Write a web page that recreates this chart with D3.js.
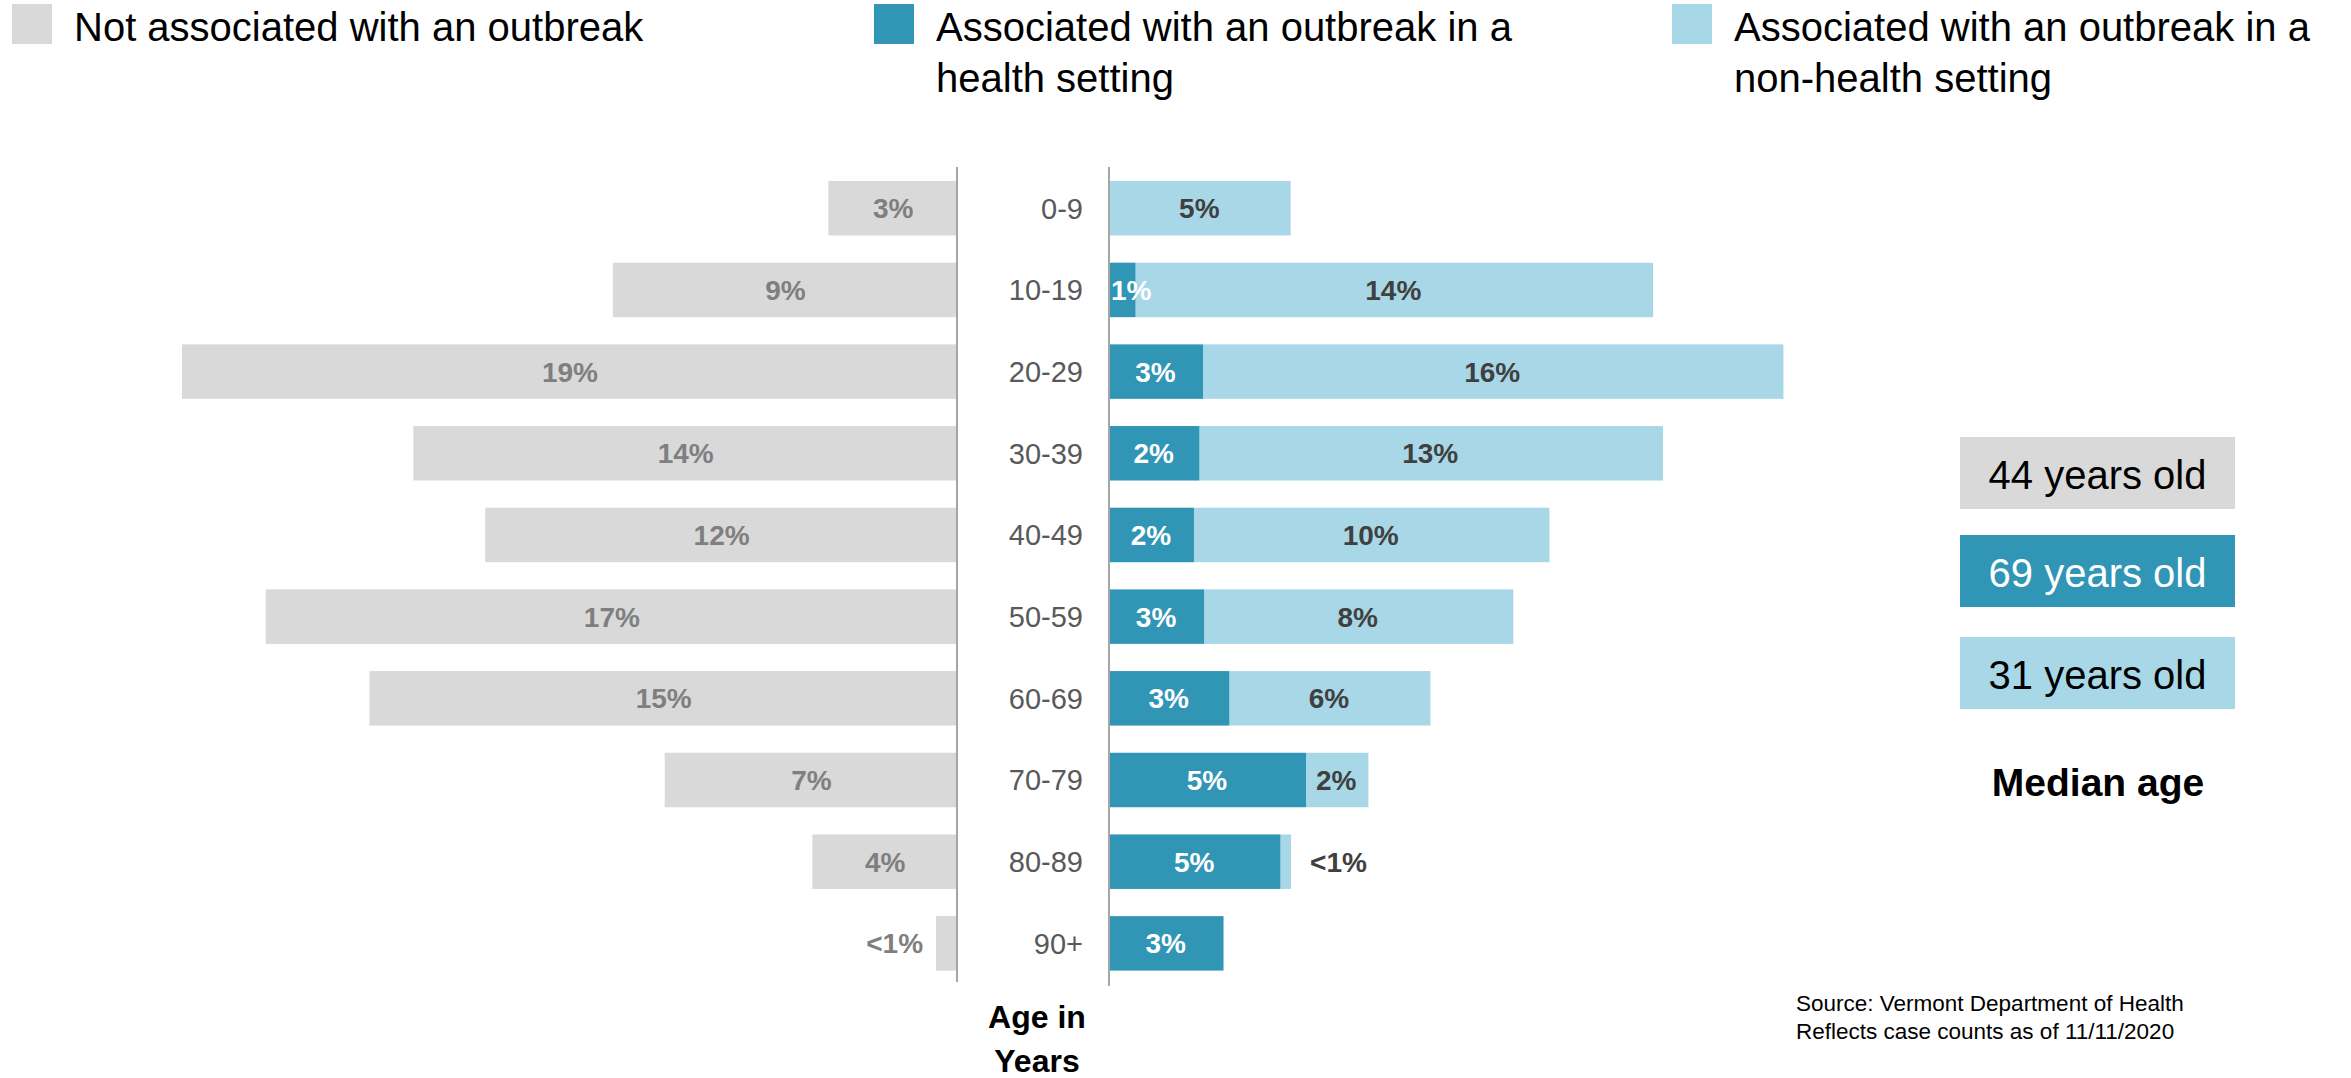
<!DOCTYPE html>
<html>
<head>
<meta charset="utf-8">
<script src="https://cdn.jsdelivr.net/npm/d3@7"></script>
<style>
  body { margin: 0; background: #fff; }
  svg { display: block; font-family: "Liberation Sans", Arial, sans-serif; }
</style>
</head>
<body>
<div id="chart"><svg></svg></div>
<script>
var width = 2351,
    height = 1078;

var colorGray = "#d9d9d9",
    colorTeal = "#3195b5",
    colorLight = "#a8d8e8";

// age groups
var ages = ["0-9", "10-19", "20-29", "30-39", "40-49", "50-59", "60-69", "70-79", "80-89", "90+"];

// share of cases (%)
var notAssoc  = [3.2, 8.6, 19.4, 13.6, 11.8, 17.3, 14.7, 7.3, 3.6, 0.5];
var health    = [0, 0.7, 2.55, 2.45, 2.3, 2.58, 3.27, 5.37, 4.67, 3.11];
var nonHealth = [4.95, 14.18, 15.9, 12.7, 9.74, 8.47, 5.51, 1.71, 0.29, 0];

// printed labels
var notAssocLabels  = ["3%", "9%", "19%", "14%", "12%", "17%", "15%", "7%", "4%", "<1%"];
var healthLabels    = ["", "1%", "3%", "2%", "2%", "3%", "3%", "5%", "5%", "3%"];
var nonHealthLabels = ["5%", "14%", "16%", "13%", "10%", "8%", "6%", "2%", "<1%", ""];

var legendNames = [["Not associated with an outbreak"],
                   ["Associated with an outbreak in a", "health setting"],
                   ["Associated with an outbreak in a", "non-health setting"]];
var medianAges = ["44 years old", "69 years old", "31 years old"];

var rows = ages.map(function (a, i) {
  return { age: a, left: notAssoc[i], h: health[i], nh: nonHealth[i],
           leftLab: notAssocLabels[i], hLab: healthLabels[i], nhLab: nonHealthLabels[i] };
});

var svg = d3.select("#chart svg")
  .attr("width", width)
  .attr("height", height);

var leftAxisX = 957,
    rightAxisX = 1109;

var y = d3.scaleBand()
  .domain(ages)
  .range([153.8, 997.8])
  .padding(0.333);

var xLeft = d3.scaleLinear().domain([0, 20]).range([0, 798]);
var xRight = d3.scaleLinear().domain([0, 20]).range([0, 730]);

// axis lines
svg.append("line")
  .attr("x1", leftAxisX).attr("x2", leftAxisX)
  .attr("y1", 167).attr("y2", 982)
  .attr("stroke", "#a6a6a6").attr("stroke-width", 2);
svg.append("line")
  .attr("x1", rightAxisX).attr("x2", rightAxisX)
  .attr("y1", 167).attr("y2", 986)
  .attr("stroke", "#a6a6a6").attr("stroke-width", 2);

// left bars
var left = svg.append("g").attr("class", "left");
left.selectAll("rect")
    .data(rows)
  .enter().append("rect")
    .attr("x", function (d) { return leftAxisX - 1 - xLeft(d.left); })
    .attr("y", function (d) { return y(d.age); })
    .attr("width", function (d) { return xLeft(d.left); })
    .attr("height", y.bandwidth())
    .attr("fill", colorGray);

left.selectAll("text")
    .data(rows)
  .enter().append("text")
    .attr("x", function (d) {
      var w = xLeft(d.left);
      return w < 40 ? leftAxisX - w - 14 : leftAxisX - w / 2;
    })
    .attr("y", function (d) { return y(d.age) + y.bandwidth() / 2; })
    .attr("dy", "0.36em")
    .attr("text-anchor", function (d) { return xLeft(d.left) < 40 ? "end" : "middle"; })
    .attr("font-size", 28)
    .attr("font-weight", "bold")
    .attr("fill", "#7f7f7f")
    .text(function (d) { return d.leftLab; });

// right bars
var right = svg.append("g").attr("class", "right");
right.selectAll("rect.nh")
    .data(rows)
  .enter().append("rect")
    .attr("class", "nh")
    .attr("x", function (d) { return rightAxisX + 1 + xRight(d.h); })
    .attr("y", function (d) { return y(d.age); })
    .attr("width", function (d) { return xRight(d.nh); })
    .attr("height", y.bandwidth())
    .attr("fill", colorLight);

right.selectAll("rect.h")
    .data(rows)
  .enter().append("rect")
    .attr("class", "h")
    .attr("x", rightAxisX + 1)
    .attr("y", function (d) { return y(d.age); })
    .attr("width", function (d) { return xRight(d.h); })
    .attr("height", y.bandwidth())
    .attr("fill", colorTeal);

right.selectAll("text.nh")
    .data(rows)
  .enter().append("text")
    .attr("class", "nh")
    .attr("x", function (d) {
      var w = xRight(d.nh), x0 = rightAxisX + xRight(d.h);
      return w < 40 ? x0 + w + 20 : x0 + w / 2;
    })
    .attr("y", function (d) { return y(d.age) + y.bandwidth() / 2; })
    .attr("dy", "0.36em")
    .attr("text-anchor", function (d) { return xRight(d.nh) < 40 ? "start" : "middle"; })
    .attr("font-size", 28)
    .attr("font-weight", "bold")
    .attr("fill", "#404040")
    .text(function (d) { return d.nhLab; });

right.selectAll("text.h")
    .data(rows)
  .enter().append("text")
    .attr("class", "h")
    .attr("x", function (d) {
      var w = xRight(d.h);
      return w < 40 ? rightAxisX + 2 : rightAxisX + w / 2;
    })
    .attr("y", function (d) { return y(d.age) + y.bandwidth() / 2; })
    .attr("dy", "0.36em")
    .attr("text-anchor", function (d) { return xRight(d.h) < 40 ? "start" : "middle"; })
    .attr("font-size", 28)
    .attr("font-weight", "bold")
    .attr("fill", "#fff")
    .text(function (d) { return d.hLab; });

// age labels
svg.append("g").selectAll("text")
    .data(ages)
  .enter().append("text")
    .attr("x", 1083)
    .attr("y", function (d) { return y(d) + y.bandwidth() / 2; })
    .attr("dy", "0.36em")
    .attr("text-anchor", "end")
    .attr("font-size", 29)
    .attr("fill", "#595959")
    .text(function (d) { return d; });

var ageTitle = svg.append("text")
  .attr("text-anchor", "middle")
  .attr("font-size", 32)
  .attr("font-weight", "bold")
  .attr("fill", "#000");
ageTitle.append("tspan").attr("x", 1037).attr("y", 1028).text("Age in");
ageTitle.append("tspan").attr("x", 1037).attr("y", 1072).text("Years");

// legend
var legendX = [12, 874, 1672],
    legendColors = [colorGray, colorTeal, colorLight];
var legend = svg.append("g").attr("class", "legend")
  .selectAll("g")
    .data(legendNames)
  .enter().append("g")
    .attr("transform", function (d, i) { return "translate(" + legendX[i] + ",0)"; });
legend.append("rect")
  .attr("x", 0).attr("y", 4)
  .attr("width", 40).attr("height", 40)
  .attr("fill", function (d, i) { return legendColors[i]; });
legend.append("text")
  .attr("font-size", 40)
  .attr("fill", "#000")
  .selectAll("tspan")
    .data(function (d) { return d; })
  .enter().append("tspan")
    .attr("x", 62)
    .attr("y", function (d, i) { return 41 + i * 51; })
    .text(function (d) { return d; });

// median age boxes
var boxTops = [437, 535, 637];
var boxes = svg.append("g").attr("class", "median")
  .selectAll("g")
    .data(medianAges)
  .enter().append("g");
boxes.append("rect")
  .attr("x", 1960)
  .attr("y", function (d, i) { return boxTops[i]; })
  .attr("width", 275)
  .attr("height", 72)
  .attr("fill", function (d, i) { return legendColors[i]; });
boxes.append("text")
  .attr("x", 2097.5)
  .attr("y", function (d, i) { return boxTops[i] + 52; })
  .attr("text-anchor", "middle")
  .attr("font-size", 40)
  .attr("fill", function (d, i) { return i === 1 ? "#fff" : "#000"; })
  .text(function (d) { return d; });

svg.append("text")
  .attr("x", 2098)
  .attr("y", 796)
  .attr("text-anchor", "middle")
  .attr("font-size", 39)
  .attr("font-weight", "bold")
  .attr("fill", "#000")
  .text("Median age");

// source note
var note = svg.append("text")
  .attr("font-size", 22.5)
  .attr("fill", "#000");
note.append("tspan").attr("x", 1796).attr("y", 1011).text("Source: Vermont Department of Health");
note.append("tspan").attr("x", 1796).attr("y", 1039).text("Reflects case counts as of 11/11/2020");
</script>
</body>
</html>
